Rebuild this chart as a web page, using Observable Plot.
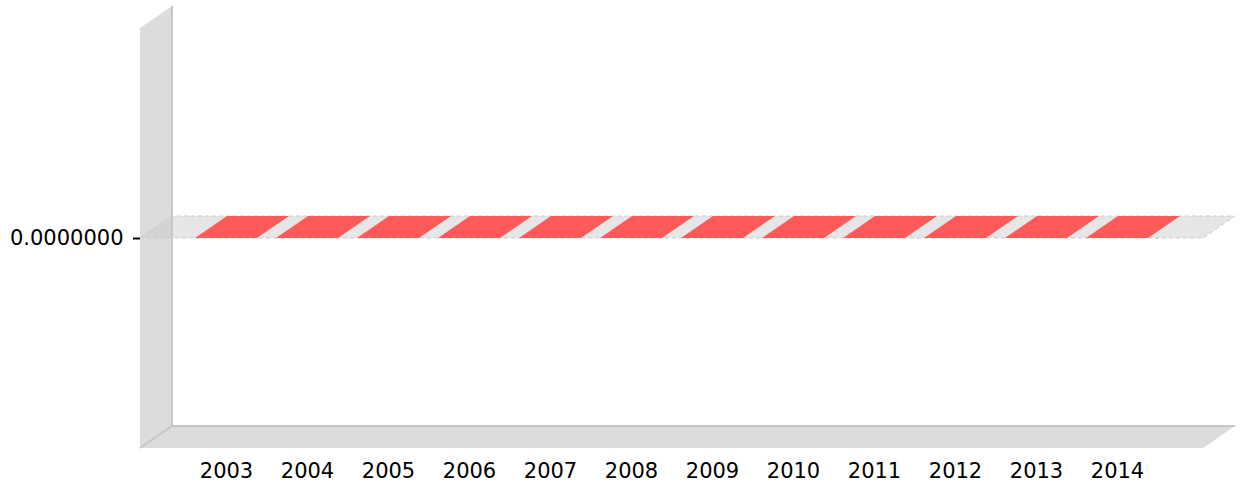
<!DOCTYPE html>
<html><head><meta charset="utf-8">
<script src="https://cdn.jsdelivr.net/npm/d3@7"></script>
<script src="https://cdn.jsdelivr.net/npm/@observablehq/plot@0.6"></script>
<style>body{margin:0;background:#fff}</style>
</head><body><div id="chart"></div>
<script>
const years = ["2003","2004","2005","2006","2007","2008","2009","2010","2011","2012","2013","2014"];
const values = [0,0,0,0,0,0,0,0,0,0,0,0];
const yTicks = [0];
const yDomain = [-1, 1];

const data = years.map((year, i) => ({year, value: values[i]}));

const DX = 32, DY = -22;
const pts = a => a.map(p => p.join(",")).join(" ");

function bw(scales) {
  const x = scales.x;
  if (x && typeof x.bandwidth === "function") return x.bandwidth();
  return scales.scales.x.bandwidth;
}

function frame3d(index, scales, vals, dims) {
  const {width, height, marginLeft, marginRight, marginTop, marginBottom} = dims;
  const L = marginLeft, R = width - marginRight, T = marginTop, B = height - marginBottom;
  const g = d3.create("svg:g");
  g.append("polygon").attr("points", pts([[L,B],[L,T],[L+DX,T+DY],[L+DX,B+DY]])).attr("fill","#dcdcdc");
  g.append("polygon").attr("points", pts([[L,B],[L+DX,B+DY],[R+DX,B+DY],[R,B]])).attr("fill","#dcdcdc");
  g.append("line").attr("x1",L+DX).attr("y1",T+DY).attr("x2",L+DX).attr("y2",B+DY)
    .attr("stroke","#c6c6c6").attr("stroke-width",2);
  g.append("line").attr("x1",L+DX).attr("y1",B+DY).attr("x2",R+DX).attr("y2",B+DY)
    .attr("stroke","#c6c6c6").attr("stroke-width",2);
  g.append("line").attr("x1",L).attr("y1",B).attr("x2",L+DX).attr("y2",B+DY)
    .attr("stroke","#c6c6c6").attr("stroke-width",2);
  const y0 = scales.y(0);
  g.append("polygon").attr("points", pts([[L,y0],[R,y0],[R+DX,y0+DY],[L+DX,y0+DY]]))
    .attr("fill","rgb(200,200,200)").attr("fill-opacity",0.46)
    .attr("stroke","#c8c8d2").attr("stroke-dasharray","4,3").attr("stroke-width",1);
  return g.node();
}

function bars3d(index, scales, vals, dims) {
  const g = d3.create("svg:g");
  const w = bw(scales);
  const y0 = scales.y(0);
  for (const d of data) {
    const x0 = scales.x(d.year), x1 = x0 + w, yv = scales.y(d.value);
    g.append("polygon").attr("points", pts([[x0,y0],[x1,y0],[x1,yv],[x0,yv]])).attr("fill","#e84a4a");
    g.append("polygon").attr("points", pts([[x1,y0],[x1+DX,y0+DY],[x1+DX,yv+DY],[x1,yv]])).attr("fill","#d04040");
    g.append("polygon").attr("points", pts([[x0,yv],[x1,yv],[x1+DX,yv+DY],[x0+DX,yv+DY]])).attr("fill","#ff5a5a");
  }
  return g.node();
}

const chart = Plot.plot({
  width: 1243,
  height: 488,
  marginLeft: 140,
  marginRight: 40,
  marginTop: 28,
  marginBottom: 40,
  style: {fontFamily: "DejaVu Sans", fontSize: "21px", color: "#000", background: "#fff"},
  x: {type: "band", domain: years, paddingInner: 0.2365, paddingOuter: 0.64, label: null},
  y: {domain: yDomain, label: null},
  marks: [
    frame3d,
    Plot.barY(data, {x: "year", y: "value", fill: "#ff5a5a"}),
    bars3d,
    Plot.axisY({ticks: yTicks, tickFormat: d => d3.format(".7f")(d), tickSize: 7, tickPadding: 10, strokeWidth: 2, fontSize: 21, label: null}),
    Plot.axisX({tickSize: 0, tickPadding: 15, fontSize: 21, label: null})
  ]
});
document.getElementById("chart").appendChild(chart);
</script>
</body></html>
